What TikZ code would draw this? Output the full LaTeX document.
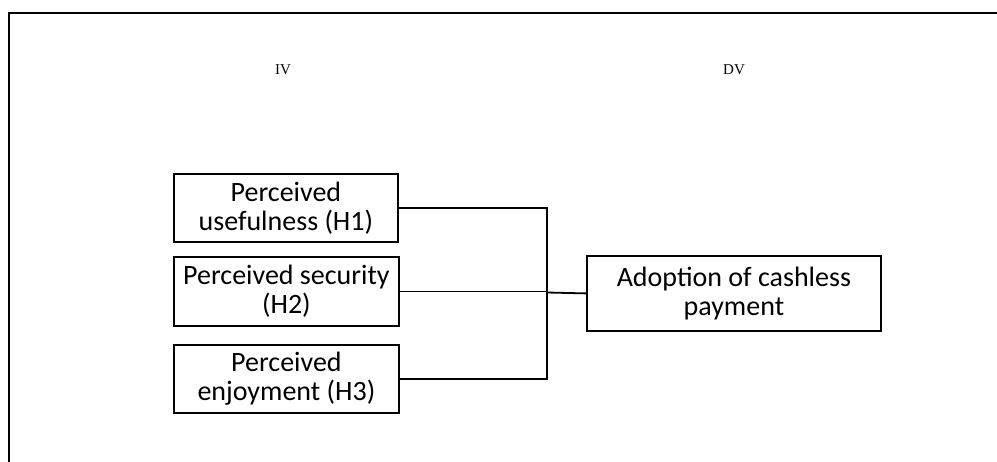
\documentclass[tikz,border=0pt]{standalone}
\usepackage{fontspec}
\setmainfont{Carlito}
\newfontfamily\headfont{Liberation Serif}
\begin{document}
\begin{tikzpicture}[x=1pt,y=-1pt,
  varbox/.style={draw=black, line width=1.8pt, inner sep=0pt, align=center,
    font=\fontsize{28}{29}\selectfont, anchor=north west},
  headtxt/.style={font=\headfont\fontsize{15}{17}\selectfont},
  conn/.style={line width=1.8pt}]
\useasboundingbox (0,0) rectangle (997,461);
\draw[line width=2pt] (1010,13) -- (9,13) -- (9,475);
\node[headtxt] (iv) at (283,70) {IV};
\node[headtxt] (dv) at (734,70) {DV};
\node[varbox, minimum width=224pt, minimum height=68pt] (h1) at (173,173) {Perceived\\usefulness (H1)};
\node[varbox, minimum width=225pt, minimum height=69pt] (h2) at (173,256) {Perceived security\\(H2)};
\node[varbox, minimum width=225pt, minimum height=68pt] (h3) at (173,344) {Perceived\\enjoyment (H3)};
\node[varbox, minimum width=294pt, minimum height=75pt] (y) at (586,255) {Adoption of cashless\\payment};
\coordinate (j) at (547,292.5);
\draw[conn] (h1.east) -| (j);
\draw[conn] (h3.east) -| (j);
\draw[line width=1.2pt] (h2.east) -- (h2.east -| j);
\draw[conn] (j) -- (y.west);
\end{tikzpicture}
\end{document}
